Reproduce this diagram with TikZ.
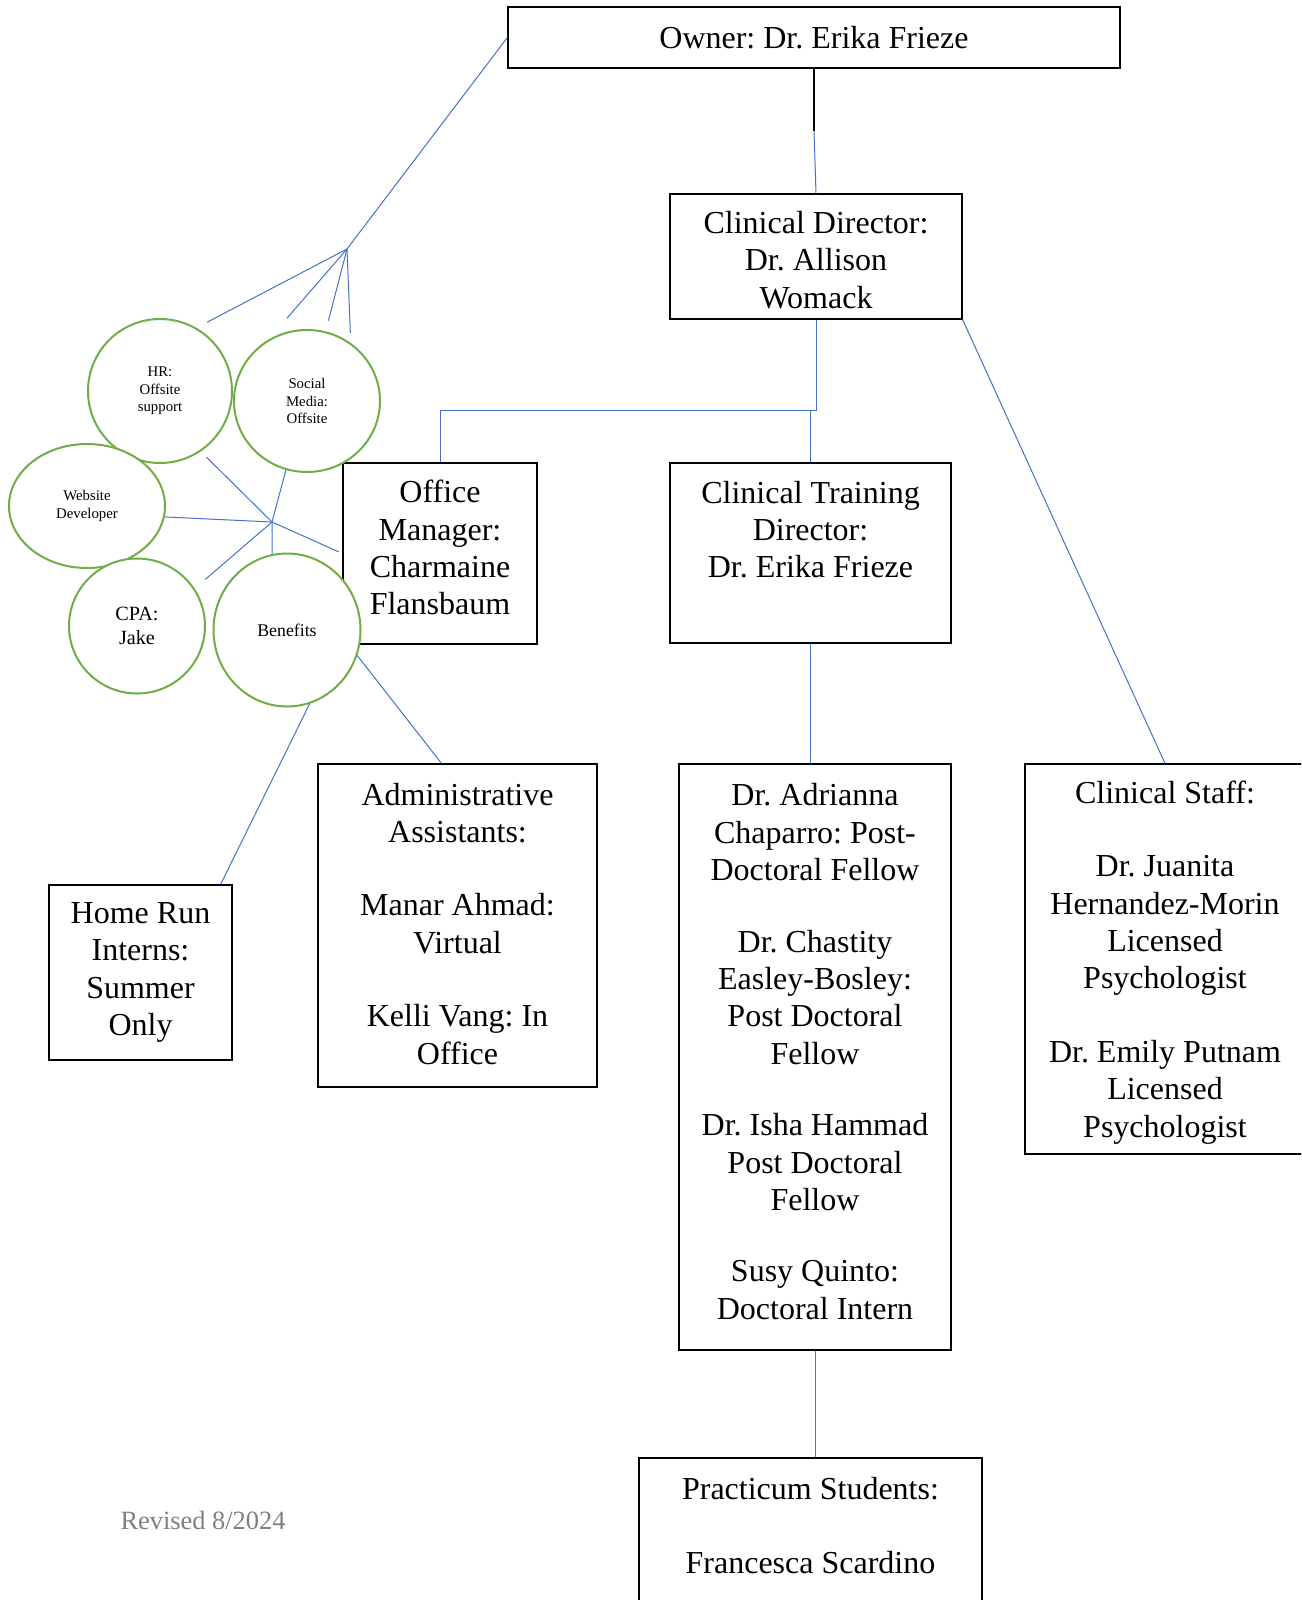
\documentclass[tikz,border=0pt]{standalone}
\usepackage{fontspec}
\setmainfont{Liberation Serif}
\frenchspacing
\usetikzlibrary{shapes.geometric}
\definecolor{linkblue}{HTML}{4472C4}
\definecolor{bubblegreen}{HTML}{70AD47}
\begin{document}
\begin{tikzpicture}[x=0.5pt,y=-0.5pt,
    box/.style={draw,rectangle,inner sep=0pt,line width=0.6pt,align=center,font=\fontsize{16}{18.7}\selectfont},
    bubble/.style={draw=bubblegreen,ellipse,line width=1pt,fill=white,inner sep=0pt,align=center},
    link/.style={draw=linkblue,line width=0.5pt}]
  \useasboundingbox (0,0) rectangle (1301,1600);
  \clip (0,0) rectangle (1301,1600);
  \node[box,minimum width=306pt,minimum height=30.5pt](owner) at (814,37.5){Owner: Dr. Erika Frieze};
  \node[box,minimum width=146pt,minimum height=62.5pt,text height=52pt](cd) at (816,256.5){Clinical Director:\\Dr. Allison\\Womack};
  \node[box,minimum width=97pt,minimum height=90.5pt,text depth=6pt](om) at (440,553.5){Office\\Manager:\\Charmaine\\Flansbaum};
  \node[box,minimum width=140.5pt,minimum height=90pt,text depth=23.7pt](ct) at (810.5,553){Clinical Training\\Director:\\Dr. Erika Frieze};
  \node[box,minimum width=136pt,minimum height=293pt,text depth=5.5pt](fellows) at (815,1057){Dr. Adrianna\\Chaparro: Post-\\Doctoral Fellow\\[17pt]Dr. Chastity\\Easley-Bosley:\\Post Doctoral\\Fellow\\[17pt]Dr. Isha Hammad\\Post Doctoral\\Fellow\\[17pt]Susy Quinto:\\Doctoral Intern};
  \node[box,minimum width=139.5pt,minimum height=161.5pt,text depth=2pt](admin) at (457.5,925.5){Administrative\\Assistants:\\[18pt]Manar Ahmad:\\Virtual\\[18pt]Kelli Vang: In\\Office};
  \node[box,minimum width=91.5pt,minimum height=87.5pt](homerun) at (140.5,972.5){Home Run\\Interns:\\Summer\\Only};
  \node[box,minimum width=140pt,minimum height=195pt,text depth=-1.5pt](staff) at (1165,959){Clinical Staff:\\[18pt]Dr. Juanita\\Hernandez-Morin\\Licensed\\Psychologist\\[18pt]Dr. Emily Putnam\\Licensed\\Psychologist};
  \node[box,minimum width=171.5pt,minimum height=91pt,text depth=23.7pt](prac) at (810.5,1549){Practicum Students:\\[18pt]Francesca Scardino};
  \node[text=gray,font=\fontsize{13.2}{15}\selectfont](revised) at (203,1520){Revised 8/2024};
  \node[bubble,minimum width=72pt,minimum height=72pt,font=\fontsize{7.4}{8.7}\selectfont](hr) at (160,391){HR:\\Offsite\\support};
  \node[bubble,minimum width=73pt,minimum height=71pt,font=\fontsize{7.4}{8.7}\selectfont](social) at (307,401){Social\\Media:\\Offsite};
  \node[bubble,minimum width=78pt,minimum height=62pt,font=\fontsize{7.4}{9.4}\selectfont](web) at (87,506){Website\\Developer};
  \node[bubble,minimum width=68pt,minimum height=67.5pt,font=\fontsize{10.1}{11.7}\selectfont](cpa) at (137,626){CPA:\\Jake};
  \node[bubble,minimum width=73.5pt,minimum height=76.5pt,font=\fontsize{8.9}{10.5}\selectfont](benefits) at (287,630){Benefits};
  \coordinate (ownmid) at (814,131);
  \coordinate (split) at (816,410);
  \coordinate (fan) at (347,249);
  \coordinate (hub) at (272,522);
  \draw[line width=0.6pt] (owner.south) -- (ownmid);
  \draw[link] (ownmid) -- (cd.north);
  \draw[link] (cd.south) -- (split) -| (om.north);
  \draw[link] (split) -| (ct.north);
  \draw[link] (ct.south) -- (ct.south |- fellows.north);
  \draw[link] (fellows.south) -- (fellows.south |- prac.north);
  \draw[link] (cd.south east) -- (staff.north);
  \draw[link] (owner.west) -- (fan);
  \draw[link,shorten >=6pt] (fan) -- (hr.60);
  \draw[link,shorten >=14pt] (fan) -- (social.122);
  \draw[link,shorten >=5.5pt] (fan) -- (social.75);
  \draw[link,shorten >=5pt] (fan) -- (social.53);
  \draw[link,shorten >=4pt] (hub) -- (hr.-56);
  \draw[link] (hub) -- (web.-8);
  \draw[link] (hub) -- (social.-107);
  \draw[link,shorten >=2pt] (hub) -- (om.west);
  \draw[link,shorten >=7pt] (hub) -- (cpa.33);
  \draw[link] (hub) -- (benefits.101);
  \draw[link] (benefits.-20) -- ([xshift=-8pt]admin.north);
  \draw[link] (benefits.-73) -- ([xshift=-6pt]homerun.north east);
\end{tikzpicture}
\end{document}
